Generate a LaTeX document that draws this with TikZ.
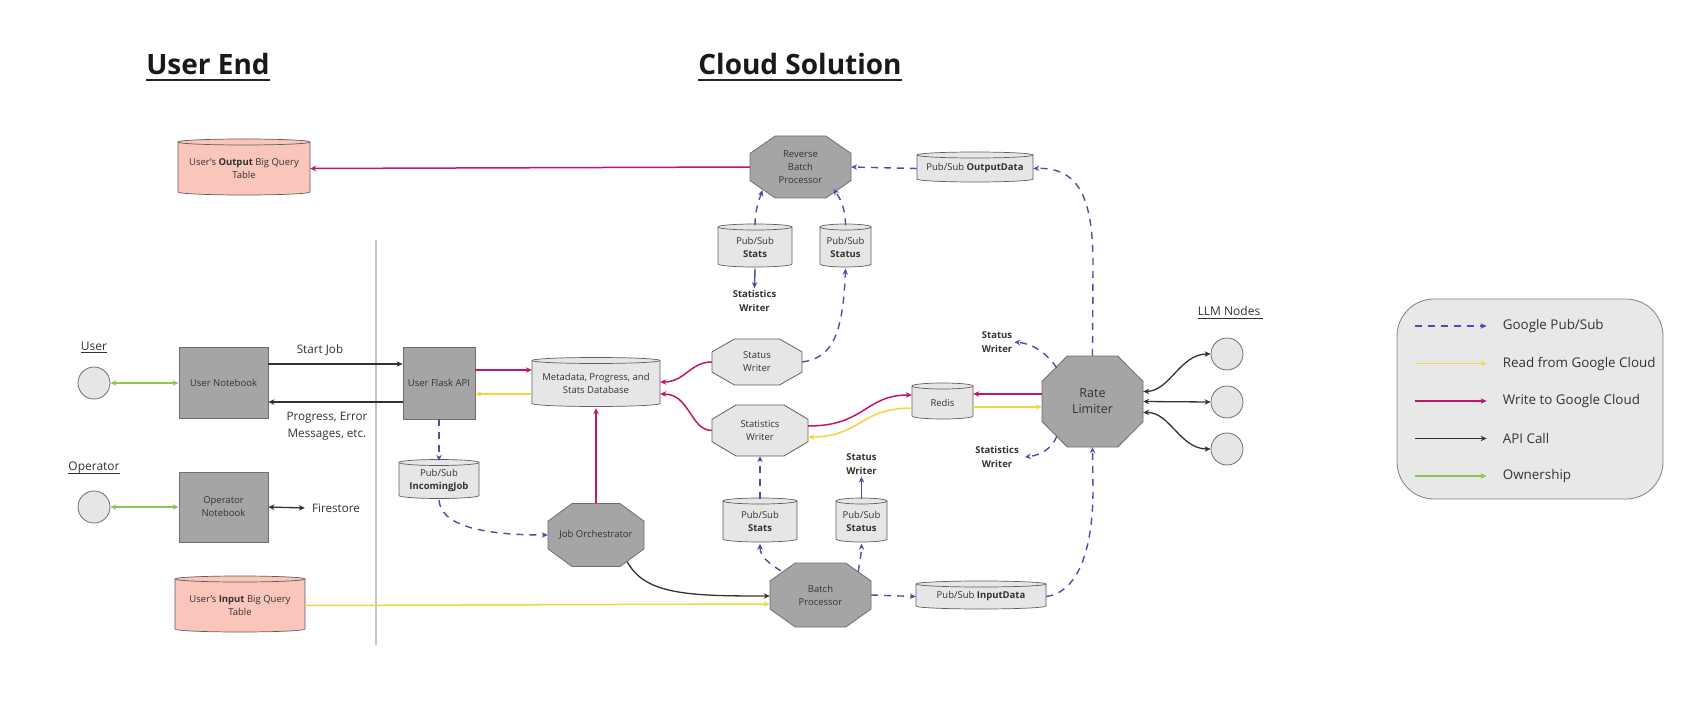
\documentclass[tikz,border=0pt]{standalone}
\usepackage{fontspec}
\setmainfont{Open Sans}
\usetikzlibrary{arrows.meta,calc}
\definecolor{darkfill}{HTML}{A5A5A5}
\definecolor{darkline}{HTML}{6F6F6F}
\definecolor{lightfill}{HTML}{E6E6E6}
\definecolor{lightline}{HTML}{5F5F5F}
\definecolor{salmon}{HTML}{FAC5BA}
\definecolor{wcol}{HTML}{C2166E}
\definecolor{rcol}{HTML}{F2D541}
\definecolor{pcol}{HTML}{4B4FA8}
\definecolor{gcol}{HTML}{8DC653}
\definecolor{acol}{HTML}{333333}
\definecolor{txt}{HTML}{333333}
\definecolor{legfill}{HTML}{E8E8E8}
\definecolor{legline}{HTML}{808080}
\definecolor{divcol}{HTML}{C4C4C4}
\newcommand\nf{\fontsize{9.5}{13}\selectfont}
\newcommand\bsmall{\fontsize{9.5}{14}\selectfont\bfseries}
\tikzset{
  tipA/.tip={Stealth[length=6pt,width=5.5pt]},
  pubsub/.style={pcol,line width=1.4pt,dash pattern=on 7pt off 6pt,-tipA},
  pubsolid/.style={pcol,line width=1.4pt,-tipA},
  write/.style={wcol,line width=1.5pt,-tipA},
  read/.style={rcol,line width=1.5pt,-tipA},
  api/.style={acol,line width=1.3pt,-tipA},
  apiboth/.style={acol,line width=1.3pt,tipA-tipA},
  own/.style={gcol,line width=1.4pt,tipA-tipA},
  rectnode/.style={fill=darkfill,draw=darkline,line width=0.8pt,inner sep=0pt,align=center,text=txt,font=\nf},
  person/.style={circle,fill=lightfill,draw=darkline,line width=0.8pt,minimum size=32pt,inner sep=0pt},
  plabel/.style={inner sep=0pt,text=txt,font=\fontsize{12}{14}\selectfont},
  elabel/.style={inner sep=0pt,text=txt,align=center,font=\fontsize{11.7}{17}\selectfont},
  blabel/.style={inner sep=2pt,text=txt,align=center,font=\bsmall},
  legtext/.style={inner sep=0pt,anchor=west,text=txt,font=\fontsize{13.4}{16}\selectfont},
  titlenode/.style={inner sep=0pt,anchor=base,text=black!90,font=\fontsize{28}{32}\selectfont\bfseries}
}
\newcommand\octnode[9]{%
  \pgfmathsetmacro\oxa{#2-#4/2}%
  \pgfmathsetmacro\oxb{#2-#4/2+0.25*#4}%
  \pgfmathsetmacro\oxc{#2+#4/2-0.25*#4}%
  \pgfmathsetmacro\oxd{#2+#4/2}%
  \pgfmathsetmacro\oya{#3-#5/2}%
  \pgfmathsetmacro\oyb{#3-#5/2+0.28*#5}%
  \pgfmathsetmacro\oyc{#3+#5/2-0.28*#5}%
  \pgfmathsetmacro\oyd{#3+#5/2}%
  \filldraw[fill=#6,draw=#7,line width=0.8pt] (\oxb,\oya) -- (\oxc,\oya) -- (\oxd,\oyb) -- (\oxd,\oyc) -- (\oxc,\oyd) -- (\oxb,\oyd) -- (\oxa,\oyc) -- (\oxa,\oyb) -- cycle;
  \node[inner sep=0pt,minimum width=#4pt,minimum height=#5pt,align=center,text=txt,font=#8] (#1) at (#2,#3) {#9};
}
\newcommand\cylnode[7]{%
  \pgfmathsetmacro\cxl{#2-#4/2}%
  \pgfmathsetmacro\cxr{#2+#4/2}%
  \pgfmathsetmacro\crx{#4/2}%
  \pgfmathsetmacro\cyt{#3-#5/2+3}%
  \pgfmathsetmacro\cyb{#3+#5/2-3}%
  \filldraw[fill=#6,draw=lightline,line width=0.7pt] (\cxl,\cyt) -- (\cxl,\cyb) arc[start angle=180,end angle=360,x radius=\crx pt,y radius=3pt] -- (\cxr,\cyt) arc[start angle=0,end angle=180,x radius=\crx pt,y radius=3pt] -- cycle;
  \draw[lightline,line width=0.7pt] (\cxl,\cyt) arc[start angle=180,end angle=360,x radius=\crx pt,y radius=3pt];
  \node[inner sep=0pt,minimum width=#4pt,minimum height=#5pt,align=center,text=txt,font=\nf] (#1) at (#2,#3+1.5) {#7};
}
\begin{document}
\begin{tikzpicture}[x=1pt,y=-1pt]
\useasboundingbox (0,0) rectangle (1700,714);
\fill[white] (0,0) rectangle (1700,714);

% titles
\node[titlenode] (t1) at (208,75) {User End};
\draw[black!85,line width=2.5pt] ($(t1.base west)+(0,5)$) -- ($(t1.base east)+(0,5)$);
\node[titlenode] (t2) at (800,75) {Cloud Solution};
\draw[black!85,line width=2.5pt] ($(t2.base west)+(0,5)$) -- ($(t2.base east)+(0,5)$);

% divider
\draw[divcol,line width=2pt] (376,240) -- (376,645);

% user end
\node[plabel] (userlbl) at (94,346) {User};
\draw[txt,line width=0.8pt] ($(userlbl.base west)+(0,2.5)$) -- ($(userlbl.base east)+(0,2.5)$);
\node[person] (ucirc) at (94,383) {};
\node[plabel] (oplbl) at (94,468) {Operator};
\draw[txt,line width=0.8pt] ($(oplbl.base west)+(0,2.5)$) -- ($(oplbl.base east)+(0,2.5)$);
\node[person] (ocirc) at (94,507) {};

\node[rectnode,minimum width=89pt,minimum height=71pt] (un) at (223.5,383) {User Notebook};
\node[rectnode,minimum width=89pt,minimum height=70pt] (on) at (223.5,507) {Operator\\Notebook};
\node[rectnode,minimum width=72pt,minimum height=72pt] (ufa) at (439,383) {User Flask API};

\cylnode{outtab}{244}{167}{132}{56}{salmon}{User's \textbf{Output} Big Query\\Table}
\cylnode{intab}{240}{604}{130}{56}{salmon}{User's \textbf{Input} Big Query\\Table}

\node[elabel] (firestore) at (336,508) {Firestore};
\node[elabel] (startlbl) at (320,350) {Start Job};
\node[elabel] (proglbl) at (327,426.5) {Progress, Error\\Messages, etc.};

\draw[own] (ucirc.east) -- (un.west);
\draw[own] (ocirc.east) -- (on.west);
\draw[api] ($(un.east)+(0,-19)$) -- ($(ufa.west)+(0,-19)$);
\draw[api] ($(ufa.west)+(0,19)$) -- ($(un.east)+(0,19)$);
\draw[apiboth] (on.east) -- ($(firestore.west)+(-7,0)$);

% cloud nodes
\cylnode{db}{596}{382}{128}{49}{lightfill}{Metadata, Progress, and\\Stats Database}
\cylnode{ij}{439}{479}{80}{39}{lightfill}{Pub/Sub\\\textbf{IncomingJob}}
\octnode{jo}{596}{535}{96}{63}{darkfill}{darkline}{\nf}{Job Orchestrator}
\octnode{bp}{820.5}{595}{101}{64}{darkfill}{darkline}{\nf}{Batch\\Processor}
\cylnode{id}{981}{595}{130}{28}{lightfill}{Pub/Sub \textbf{InputData}}
\cylnode{sb}{760}{520}{74}{44}{lightfill}{Pub/Sub\\\textbf{Stats}}
\cylnode{stb}{861.5}{520}{51}{44}{lightfill}{Pub/Sub\\\textbf{Status}}
\octnode{stw}{760}{430.5}{96}{51}{lightfill}{lightline}{\nf}{Statistics\\Writer}
\octnode{sw}{757}{362}{90}{46}{lightfill}{lightline}{\nf}{Status\\Writer}
\cylnode{redis}{942.5}{401}{61}{36}{lightfill}{Redis}
\octnode{rl}{1092.5}{401.5}{101}{91}{darkfill}{darkline}{\fontsize{12.5}{16}\selectfont}{Rate\\Limiter}
\octnode{rbp}{800.5}{167}{101}{62}{darkfill}{darkline}{\nf}{Reverse\\Batch\\Processor}
\cylnode{od}{975}{167}{116}{30}{lightfill}{Pub/Sub \textbf{OutputData}}
\cylnode{st}{755}{245.5}{74}{43}{lightfill}{Pub/Sub\\\textbf{Stats}}
\cylnode{stt}{845.5}{245.5}{51}{43}{lightfill}{Pub/Sub\\\textbf{Status}}

\node[person] (llm1) at (1227,354) {};
\node[person] (llm2) at (1227,402) {};
\node[person] (llm3) at (1227,449) {};
\node[plabel] (llmlbl) at (1229,311) {LLM Nodes};
\draw[txt,line width=0.8pt] ($(llmlbl.base west)+(0,2.5)$) -- ($(llmlbl.base east)+(3,2.5)$);

% bold labels
\node[blabel] (lstw1) at (754.5,301) {Statistics\\Writer};
\node[blabel] (lsw2) at (861.5,464) {Status\\Writer};
\node[blabel] (lsw3) at (997,342) {Status\\Writer};
\node[blabel] (lstw3) at (997,457) {Statistics\\Writer};

% connectors
\draw[write] (rbp.west) -- (outtab.east);
\draw[pubsub] (od.west) -- (rbp.east);
\draw[pubsub] (rl.north) -- (1093,265) .. controls (1093,200) and (1080,167) .. (od.east);
\draw[pubsub] (st.north) .. controls (755,210) and (759,200) .. ($(rbp.south)+(-38,-8)$);
\draw[pubsub] (stt.north) .. controls (845.5,208) and (840,198) .. ($(rbp.south)+(33,-9)$);
\draw[pubsolid] (st.south) -- (lstw1.north);
\draw[pubsub] (sw.east) .. controls (832,358) and (843,335) .. (stt.south);

\draw[write] ($(ufa.east)+(0,-13)$) -- ($(db.west)+(0,-13.5)$);
\draw[read] ($(db.west)+(0,10.5)$) -- ($(ufa.east)+(0,11)$);
\draw[pubsub] (ufa.south) -- (ij.north);
\draw[pubsub] (ij.south) .. controls (441,525) and (480,535) .. (jo.west);
\draw[write] (jo.north) -- (db.south);
\draw[api] ($(jo.south east)+(-17,-5)$) .. controls (645,595) and (690,596) .. ($(bp.west)+(0,1)$);
\draw[read] (intab.east) -- ($(bp.west)+(0,9)$);
\draw[pubsub] (bp.east) -- (id.west);
\draw[pubsub] (id.east) .. controls (1080,592) and (1093,545) .. (1093,490) -- (rl.south);
\draw[pubsub] ($(bp.north west)+(11,8)$) .. controls (768,563) and (760,556) .. (sb.south);
\draw[pubsub] ($(bp.north east)+(-13,9)$) .. controls (860,560) and (861.5,552) .. (stb.south);
\draw[pubsolid] (stb.north) -- (lsw2.south);
\draw[pubsub] (sb.north) -- (stw.south);

\draw[write] (sw.west) .. controls (690,362) and (685,382) .. ($(db.east)+(0,-1.5)$);
\draw[write] (stw.west) .. controls (690,430) and (690,394) .. ($(db.east)+(0,10.5)$);
\draw[write] ($(stw.east)+(0,-4.5)$) .. controls (865,426) and (865,395) .. ($(redis.west)+(0,-7.5)$);
\draw[read] ($(redis.west)+(0,5.5)$) .. controls (860,408) and (860,437) .. ($(stw.east)+(0,6.5)$);
\draw[write] ($(rl.west)+(0,-7.5)$) -- ($(redis.east)+(0,-8.5)$);
\draw[read] ($(redis.east)+(0,4.5)$) -- ($(rl.west)+(0,5.5)$);

\draw[pubsub] ($(rl.north west)+(15,12)$) .. controls (1048,355) and (1035,344) .. (lsw3.east);
\draw[pubsub] ($(rl.south west)+(15,-11)$) .. controls (1052,448) and (1042,455) .. ($(lstw3.east)+(4,0)$);

\draw[apiboth] ($(rl.east)+(0,-10)$) .. controls (1170,391) and (1180,354) .. (llm1.west);
\draw[apiboth] (rl.east) -- (llm2.west);
\draw[apiboth] ($(rl.east)+(0,11)$) .. controls (1170,412) and (1180,449) .. (llm3.west);

% legend
\node[fill=legfill,draw=legline,line width=0.8pt,rounded corners=37pt,minimum width=266pt,minimum height=200pt] (legend) at (1530,399) {};
\node[legtext] (lg1) at ($(legend.west)+(106,-73)$) {Google Pub/Sub};
\node[legtext] (lg2) at ($(legend.west)+(106,-35.5)$) {Read from Google Cloud};
\node[legtext] (lg3) at ($(legend.west)+(106,2)$) {Write to Google Cloud};
\node[legtext] (lg4) at ($(legend.west)+(106,39.5)$) {API Call};
\node[legtext] (lg5) at ($(legend.west)+(106,77)$) {Ownership};
\coordinate (la1) at ($(legend.west)+(18,-73)$);
\coordinate (la2) at ($(legend.west)+(18,-35.5)$);
\coordinate (la3) at ($(legend.west)+(18,2)$);
\coordinate (la4) at ($(legend.west)+(18,39.5)$);
\coordinate (la5) at ($(legend.west)+(18,77)$);
\draw[pubsub] (la1) -- ($(lg1.west)+(-16,0)$);
\draw[read] (la2) -- ($(lg2.west)+(-16,0)$);
\draw[write] (la3) -- ($(lg3.west)+(-16,0)$);
\draw[api] (la4) -- ($(lg4.west)+(-16,0)$);
\draw[gcol,line width=1.4pt,-tipA] (la5) -- ($(lg5.west)+(-16,0)$);
\end{tikzpicture}
\end{document}
